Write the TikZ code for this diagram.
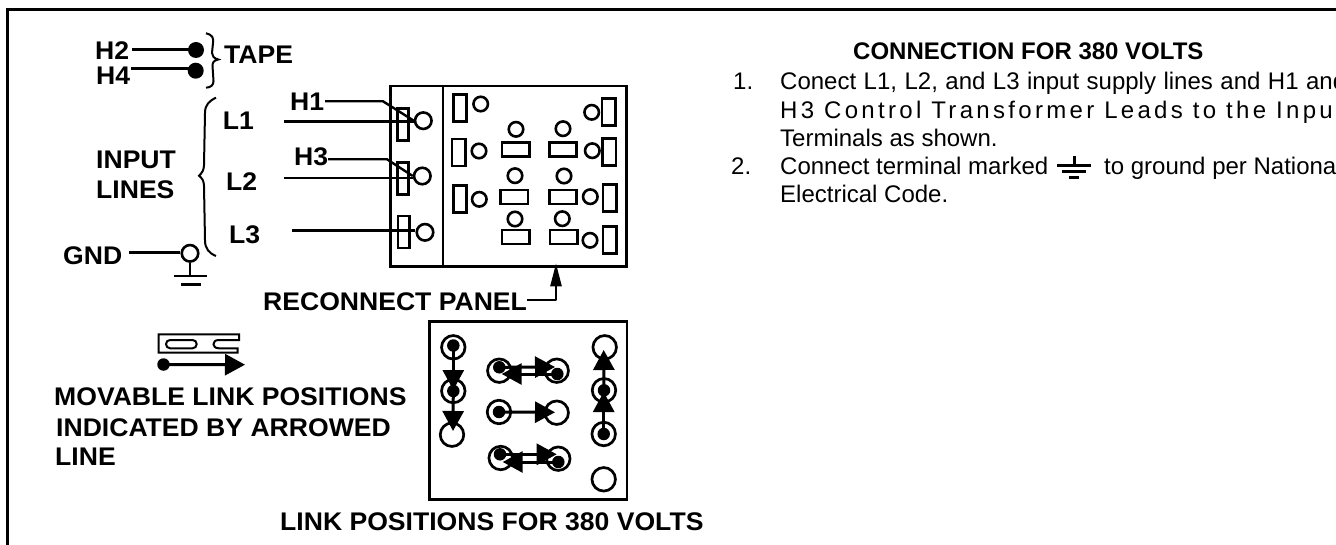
\documentclass[tikz,border=0pt]{standalone}
\usepackage{fontspec}
\setmainfont{Liberation Sans}
\newfontfamily\lblfont[FakeStretch=1.042]{Liberation Sans Bold}
\usetikzlibrary{arrows.meta}
\tikzset{
  x=1pt,y=-1pt,
  wire/.style={line width=2.4pt,line join=round},
  tb/.style={anchor=base west,inner sep=0pt,font=\fontsize{25.5}{28}\lblfont},
  th/.style={anchor=base west,inner sep=0pt,font=\fontsize{24}{28}\selectfont\bfseries},
  tr/.style={anchor=base west,inner sep=0pt,font=\fontsize{24}{28}\selectfont},
  term/.style={circle,draw,line width=2.6pt,inner sep=0pt,minimum size=14.5pt},
  bigterm/.style={circle,draw,line width=2.6pt,inner sep=0pt,minimum size=16.5pt},
  linkpos/.style={circle,draw,line width=2.7pt,inner sep=0pt,minimum size=23.5pt},
  tallbox/.style={rectangle,draw,line width=2.6pt,inner sep=0pt,minimum width=13.5pt,minimum height=27pt},
  widebox/.style={rectangle,draw,line width=2.6pt,inner sep=0pt,minimum width=27.5pt,minimum height=14pt},
  inbox/.style={rectangle,draw,line width=2.6pt,inner sep=0pt,minimum width=11.5pt,minimum height=32pt},
  lnkdot/.style={circle,fill=black,inner sep=0pt,minimum size=12.5pt},
  bigdot/.style={circle,fill=black,inner sep=0pt,minimum size=16pt},
  lnk/.style={line width=3pt,-{Triangle[length=20pt,width=21pt]}},
}
\begin{document}
\begin{tikzpicture}
\useasboundingbox (0,0) rectangle (1336,545);
\fill[white] (0,0) rectangle (1336,545);
\draw[line width=3pt,line cap=butt] (7.5,545) -- (7.5,10) -- (1336,10);

% tape leads
\node[tb] (h2) at (95,60) {H2};
\node[tb] (h4) at (96,84.3) {H4};
\node[tb] (tape) at (224,64) {TAPE};
\node[bigdot] (dh2) at (196,50) {};
\node[bigdot] (dh4) at (195.7,70.7) {};
\coordinate (h2s) at (132,49.5);
\coordinate (h4s) at (131,68.7);
\draw[wire] (h2s) -- (h2s -| dh2);
\draw[wire] (h4s) -- (h4s -| dh4);
\draw[line width=2pt] (206,33.3) .. controls (213,35) and (213.5,38) .. (213,43) -- (212,53) .. controls (212,56) and (214,58.5) .. (218.3,59.5) .. controls (214,60.5) and (212.5,62) .. (212.5,66) -- (213.5,81) .. controls (213.5,85) and (211,87.5) .. (206,87.7);

% input brace
\node[tb] (l1) at (222.7,129.3) {L1};
\node[tb] (l2) at (226,191) {L2};
\node[tb] (l3) at (229,243.3) {L3};
\node[tb] (inp) at (96,168.3) {INPUT};
\node[tb] (lin) at (96,199) {LINES};
\node[tb] (gnd) at (63,265) {GND};
\draw[line width=2pt] (216,97.7) .. controls (209,101) and (205,105) .. (205,113) -- (204,165) .. controls (204,170) and (202,173) .. (199,175.7) .. controls (202,178) and (204,181) .. (204,186) -- (205,240) .. controls (205,249) and (209,253) .. (216,256);

% ground at GND
\node[bigterm] (gt) at (190,253.3) {};
\coordinate (gs) at (129,252.5);
\coordinate (gb) at (190,276);
\draw[wire] (gs) -- (gt.west |- gs);
\draw[wire] (gt.south) -- (gb);
\draw[wire] (174,276) -- (207.3,276);
\draw[wire] (181,284.5) -- (201,284.5);

% reconnect panel
\draw[line width=2.6pt,line join=miter] (390.7,86) rectangle (626.7,266.7);
\draw[line width=2.4pt] (442.7,86) -- (442.7,266.7);
\node[inbox] (r1) at (403,124.5) {};
\node[inbox] (r2) at (403,178.7) {};
\node[inbox] (r3) at (403.7,232) {};
\node[bigterm] (t1) at (423.3,120.7) {};
\node[bigterm] (t2) at (422.3,176) {};
\node[bigterm] (t3) at (425,232.3) {};
\node[tb] (h1) at (290,111) {H1};
\node[tb] (h3) at (294,165.7) {H3};
\coordinate (h1s) at (325,101.3);
\coordinate (h1b) at (383,101.3);
\coordinate (h3s) at (328,159.3);
\coordinate (h3b) at (387,159.3);
\coordinate (l1s) at (284,121.5);
\coordinate (l2s) at (284,178);
\coordinate (l3s) at (292,230.7);
\draw[wire] (h1s) -- (h1b) -- (t1.west);
\draw[wire] (h3s) -- (h3b) -- (t2.west);
\draw[wire] (l1s) -- (l1s -| t1.west);
\draw[wire] (l2s) -- (l2s -| t2.west);
\draw[wire] (l3s) -- (l3s -| t3.west);

\foreach \n/\cx/\cy/\tx/\ty in {a/460/108.3/480.7/104,b/458.8/152.5/479/151,c/460/198.8/479.3/199.3,
  d/608.7/112.3/591.7/112.3,e/609.3/152/592.3/150.7,f/609.7/197.8/590.3/196.7,g/609.7/240/590/240.3}{
  \node[tallbox] (bx\n) at (\cx,\cy) {};
  \node[term] (tm\n) at (\tx,\ty) {};
}
\foreach \n/\cx/\cy/\tx/\ty in {h/515.7/149.7/516/129.3,i/563/149.7/563/128.7,j/514.3/197/515/175.7,
  k/563/197/564/176,l/515.7/237/515/219,m/563.7/237/562.3/218.7}{
  \node[widebox] (bx\n) at (\cx,\cy) {};
  \node[term] (tm\n) at (\tx,\ty) {};
}

% reconnect panel label
\node[tb] (rp) at (263,311) {RECONNECT PANEL};
\coordinate (rs) at (527,300);
\coordinate (rc) at (556,300);
\coordinate (rt) at (556,263.3);
\draw[wire,-{Triangle[length=23pt,width=11pt]}] (rs) -- (rc) -- (rt);

% legend
\draw[line width=2pt,line join=miter] (239,334.5) -- (158.5,334.5) -- (158.5,352.7) -- (237.7,352.7) -- (237.7,348.3) -- (219,348.3) .. controls (215,348.3) and (213.5,346) .. (213.5,344.2) .. controls (213.5,342) and (215,340) .. (219,340) -- (239,340) -- cycle;
\draw[line width=2pt,rounded corners=4.1pt] (166,340) rectangle (196.7,348.3);
\node[lnkdot] (ld) at (163.5,364.5) {};
\coordinate (lt) at (245,364.7);
\draw[lnk] (ld.center) -- (lt);
\node[tb] (m1) at (54,405) {MOVABLE LINK POSITIONS};
\node[tb] (m2) at (56,436) {INDICATED BY ARROWED};
\node[tb] (m3) at (55,465.3) {LINE};

% link panel
\draw[line width=2.4pt] (429.3,321.7) rectangle (626.7,499.3);
\node[linkpos] (a1) at (453.3,347.3) {};
\node[linkpos] (a2) at (453.3,391) {};
\node[linkpos] (a3) at (452,434.7) {};
\node[lnkdot] (da1) at (453.3,345.5) {};
\node[lnkdot] (da2) at (453.3,391) {};
\coordinate (ta2) at (453.3,390);
\coordinate (ta3) at (453,431);
\draw[lnk] (da1.center) -- (ta2);
\draw[lnk] (da2.center) -- (ta3);

\node[linkpos] (b1) at (499.3,370.7) {};
\node[linkpos] (b2) at (556.7,370.7) {};
\node[lnkdot] (db1) at (499.3,367.3) {};
\node[lnkdot] (db2) at (557.3,374) {};
\coordinate (tb1) at (555,367);
\coordinate (tb2) at (501.7,374);
\draw[lnk] (db1.center) -- (tb1);
\draw[lnk] (db2.center) -- (tb2);

\node[linkpos] (c1) at (499,412) {};
\node[linkpos] (c2) at (556.7,412.7) {};
\node[lnkdot] (dc1) at (499,412) {};
\coordinate (tc2) at (555,412.3);
\draw[lnk] (dc1.center) -- (tc2);

\node[linkpos] (e1) at (500.7,458) {};
\node[linkpos] (e2) at (558.3,458.7) {};
\node[lnkdot] (de1) at (500,454.3) {};
\node[lnkdot] (de2) at (558.3,462) {};
\coordinate (te1) at (556.7,454.3);
\coordinate (te2) at (502.7,462);
\draw[lnk] (de1.center) -- (te1);
\draw[lnk] (de2.center) -- (te2);

\node[linkpos] (f1) at (604.7,347.3) {};
\node[linkpos] (f2) at (604,390.3) {};
\node[linkpos] (f3) at (603.7,434) {};
\node[linkpos] (f4) at (603.7,479.3) {};
\node[lnkdot] (df2) at (604,390.3) {};
\node[lnkdot] (df3) at (603.7,434) {};
\coordinate (tf1) at (603.7,350);
\coordinate (tf2) at (603.7,392);
\draw[lnk] (df2.center) -- (tf1);
\draw[lnk] (df3.center) -- (tf2);

\node[tb] (lp) at (280,530) {LINK POSITIONS FOR 380 VOLTS};

% notes
\node[th] (hd) at (853,59.3) {CONNECTION FOR 380 VOLTS};
\node[tr] (n1) at (733,89.3) {1.};
\node[tr] (t11) at (780,89.3) {\spaceskip=7.5pt Conect L1, L2, and L3 input supply lines and H1 and};
\node[tr] (t12) at (780,118.3) {\addfontfeature{LetterSpace=13.8}H3 Control Transformer Leads to the Input};
\node[tr] (t13) at (780,146.7) {Terminals as shown.};
\node[tr] (n2) at (731,175) {2.};
\node[tr] (t21) at (780,175) {Connect terminal marked};
\node[tr] (t22) at (1104,175) {to ground per National};
\node[tr] (t23) at (780,203) {Electrical Code.};
\draw[line width=3pt] (1074,156) -- (1074,166);
\draw[line width=3pt] (1057,166) -- (1091,166);
\draw[line width=3pt] (1062,172) -- (1086,172);
\draw[line width=3pt] (1069,178) -- (1079,178);
\end{tikzpicture}
\end{document}
